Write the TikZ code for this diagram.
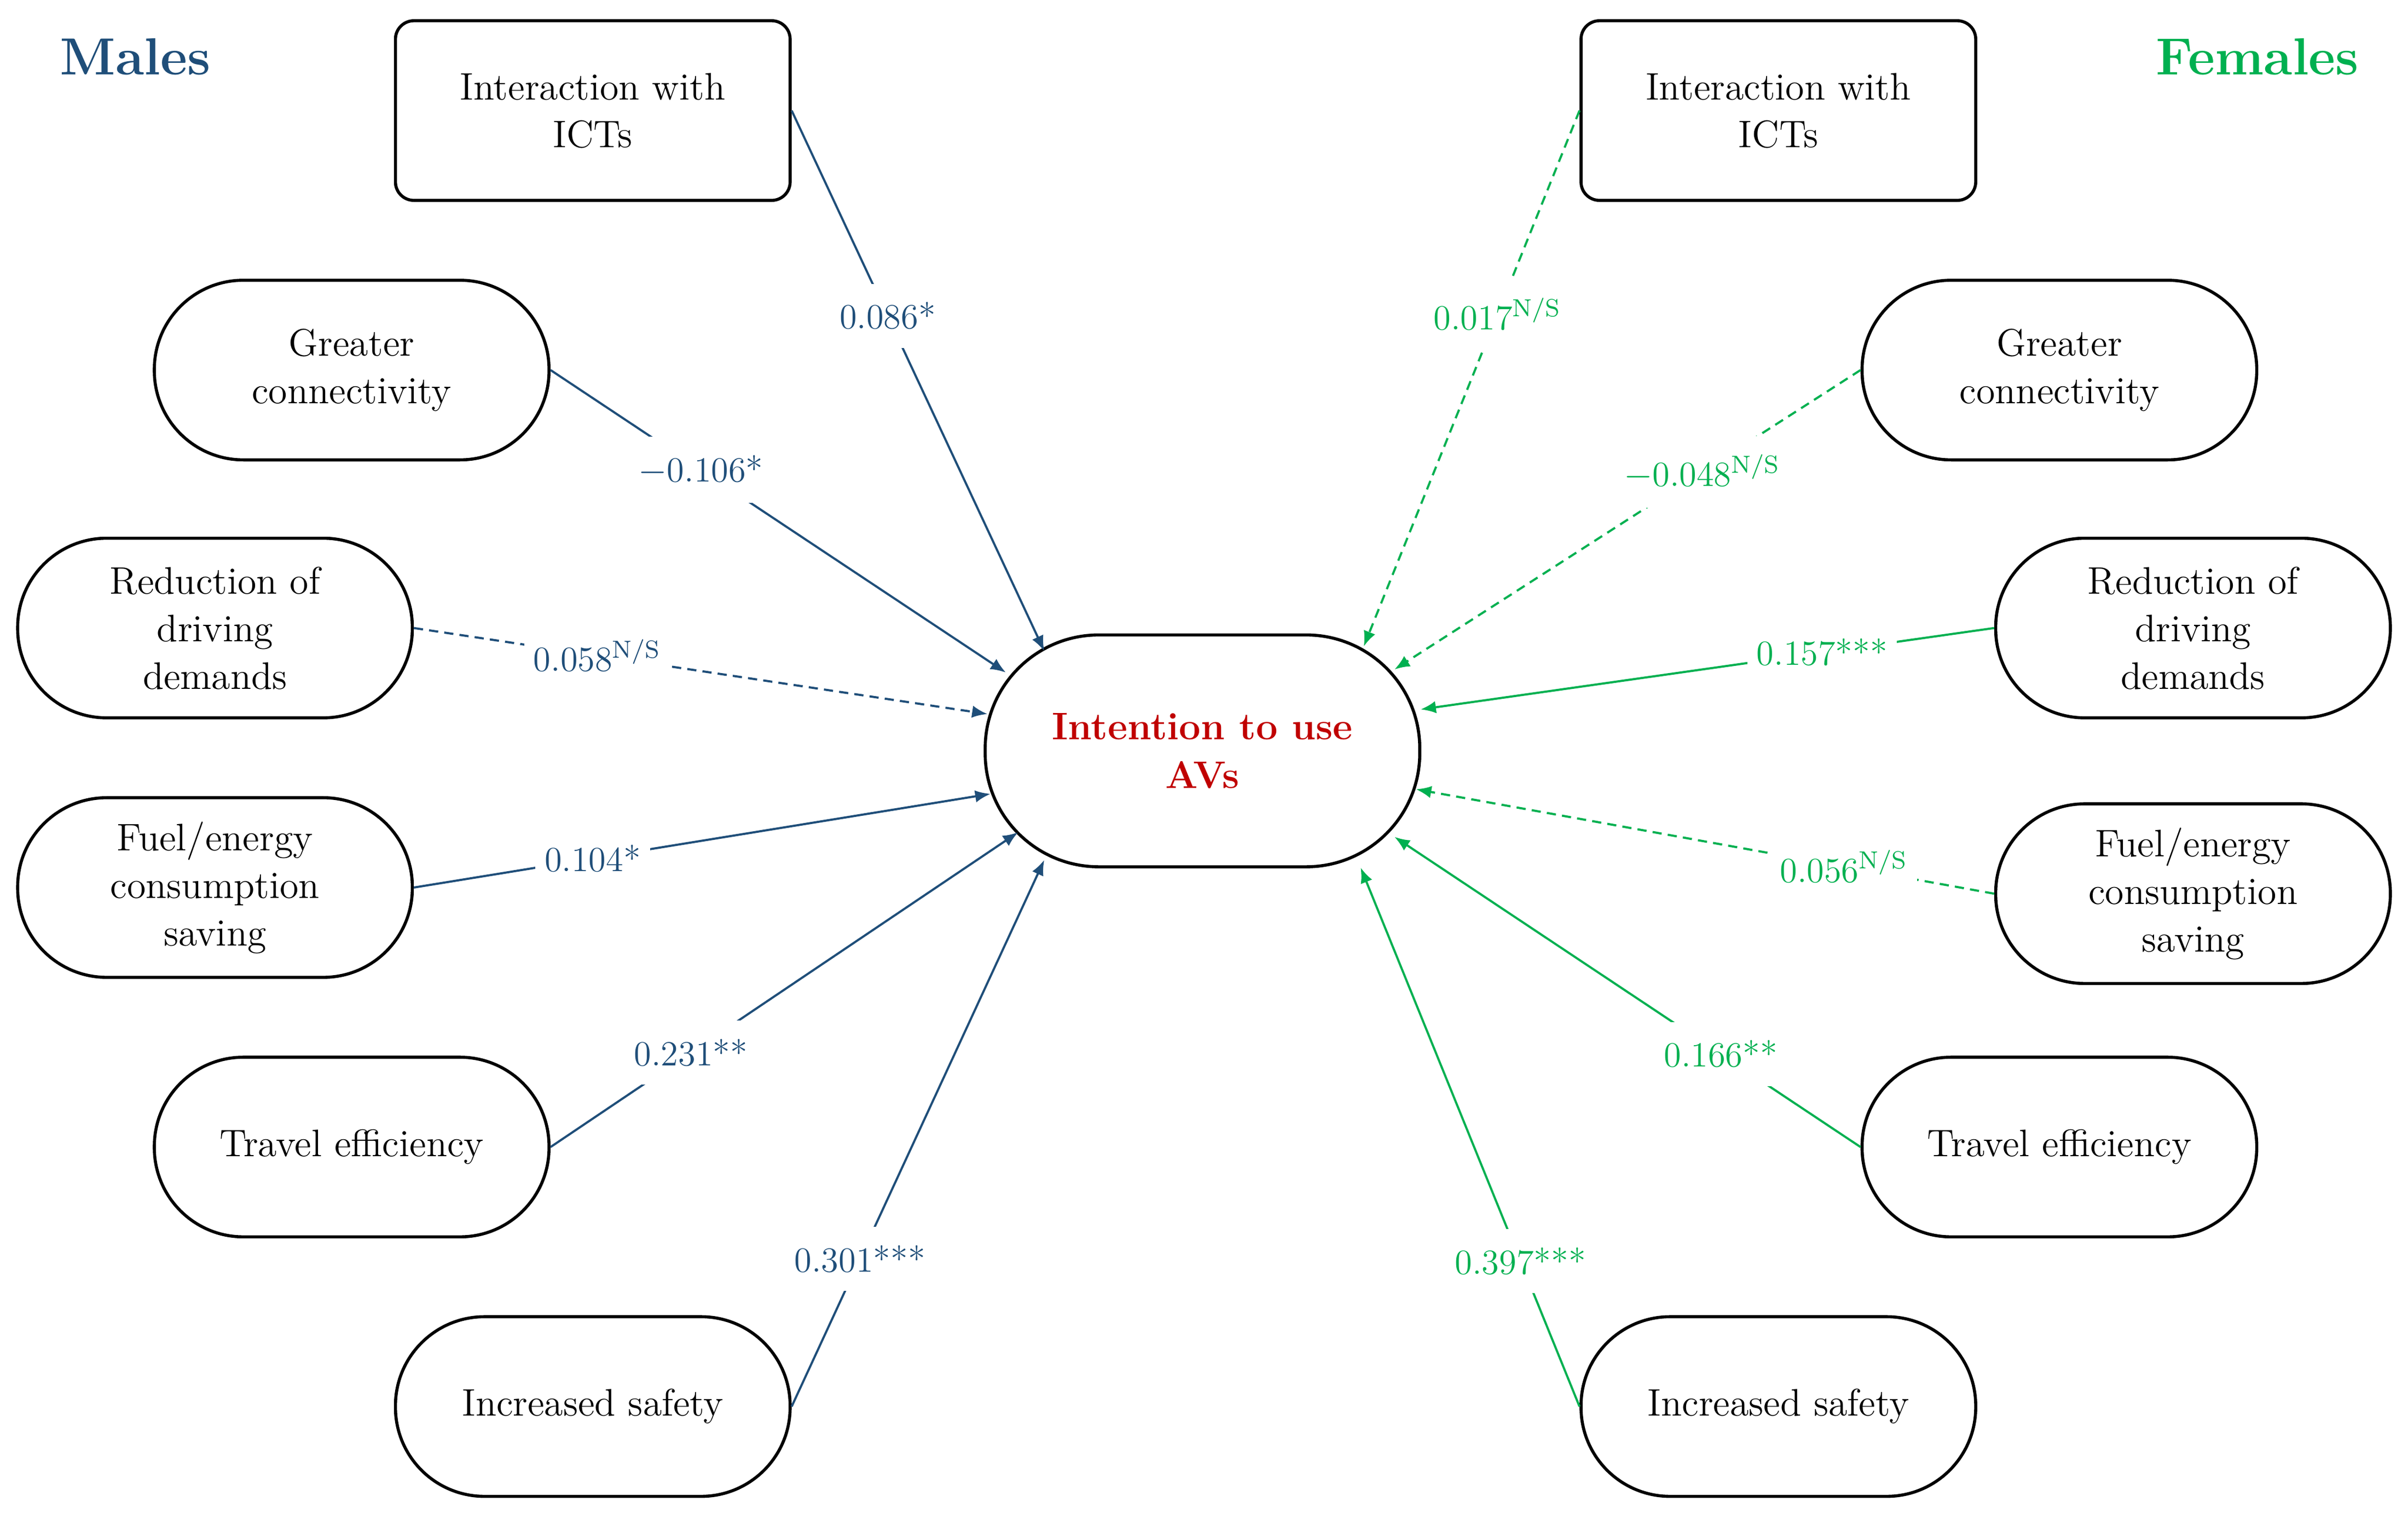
\documentclass[tikz,border=0pt]{standalone}
\usepackage{tikz}
\usetikzlibrary{arrows.meta}
\definecolor{mblue}{RGB}{31,78,121}
\definecolor{fgreen}{RGB}{0,176,80}
\definecolor{ired}{RGB}{192,0,0}
\begin{document}
\begin{tikzpicture}[x=0.5pt,y=-0.5pt,
  box/.style={draw,line width=1pt,rounded corners=6pt,minimum width=128.5pt,minimum height=58.5pt,align=center,font=\fontsize{12.5}{15.5}\selectfont,inner sep=0pt},
  pill/.style={box,rounded corners=29pt},
  cen/.style={draw,line width=1pt,rounded corners=37pt,minimum width=141.5pt,minimum height=75.5pt,align=center,font=\fontsize{12.5}{16}\selectfont\bfseries,text=ired,inner sep=0pt},
  con/.style={line width=0.7pt,-{Latex[length=5pt,width=4pt]}},
  lab/.style={fill=white,inner xsep=3pt,inner ysep=6pt,font=\fontsize{11.5}{13}\selectfont},
  ns/.style={dash pattern=on 3pt off 2pt}]
\useasboundingbox (0,0) rectangle (1568,985);
\node[font=\fontsize{17}{20}\selectfont\bfseries,text=mblue] (mt) at (88,37) {Males};
\node[font=\fontsize{17}{20}\selectfont\bfseries,text=fgreen] (ft) at (1470,37) {Females};
\node[cen] (c) at (783,489) {Intention to use\\AVs};
% left
\node[box] (l1) at (386,72) {Interaction with\\ICTs};
\node[pill] (l2) at (229,241) {Greater\\connectivity};
\node[pill] (l3) at (140,409) {Reduction of\\driving\\demands};
\node[pill] (l4) at (140,578) {Fuel/energy\\consumption\\saving};
\node[pill] (l5) at (229,747) {Travel efficiency};
\node[pill] (l6) at (386,916) {Increased safety};
% right
\node[box] (r1) at (1158,72) {Interaction with\\ICTs};
\node[pill] (r2) at (1341,241) {Greater\\connectivity};
\node[pill] (r3) at (1428,409) {Reduction of\\driving\\demands};
\node[pill] (r4) at (1428,582) {Fuel/energy\\consumption\\saving};
\node[pill] (r5) at (1341,747) {Travel efficiency};
\node[pill] (r6) at (1158,916) {Increased safety};
% end coordinates
\coordinate (e1) at (680,424);
\coordinate (e2) at (655,438);
\coordinate (e3) at (643,465);
\coordinate (e4) at (645,517);
\coordinate (e5) at (663,542);
\coordinate (e6) at (680,560);
\coordinate (f1) at (888,421);
\coordinate (f2) at (908,436);
\coordinate (f3) at (925,462);
\coordinate (f4) at (922,514);
\coordinate (f5) at (908,545);
\coordinate (f6) at (886,565);
\begin{scope}[mblue]
\draw[con] (l1.east) -- node[lab,pos=0.38]{0.086*} (e1);
\draw[con] (l2.east) -- node[lab,pos=0.33]{$-$0.106*} (e2);
\draw[con,ns] (l3.east) -- node[lab,pos=0.32]{0.058\textsuperscript{N/S}} (e3);
\draw[con] (l4.east) -- node[lab,pos=0.31]{0.104*} (e4);
\draw[con] (l5.east) -- node[lab,pos=0.30]{0.231**} (e5);
\draw[con] (l6.east) -- node[lab,pos=0.27]{0.301***} (e6);
\end{scope}
\begin{scope}[fgreen]
\draw[con,ns] (r1.west) -- node[lab,pos=0.38]{0.017\textsuperscript{N/S}} (f1);
\draw[con,ns] (r2.west) -- node[lab,pos=0.34]{$-$0.048\textsuperscript{N/S}} (f2);
\draw[con] (r3.west) -- node[lab,pos=0.30]{0.157***} (f3);
\draw[con,ns] (r4.west) -- node[lab,pos=0.26]{0.056\textsuperscript{N/S}} (f4);
\draw[con] (r5.west) -- node[lab,pos=0.30]{0.166**} (f5);
\draw[con] (r6.west) -- node[lab,pos=0.27]{0.397***} (f6);
\end{scope}
\end{tikzpicture}
\end{document}
